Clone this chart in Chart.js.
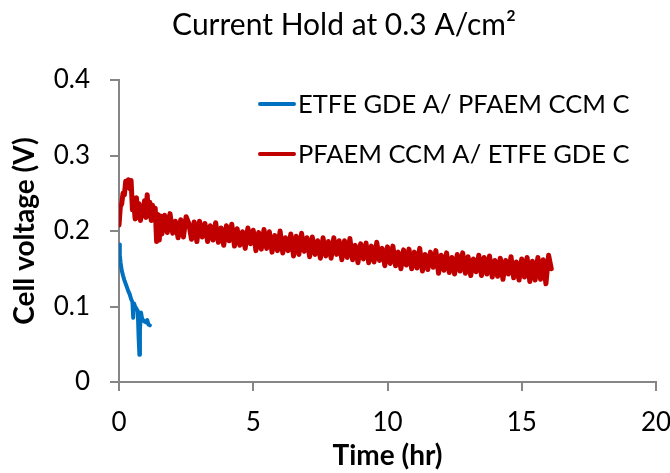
<!DOCTYPE html>
<html><head><meta charset="utf-8">
<script src="https://cdn.jsdelivr.net/npm/chart.js@4.4.1/dist/chart.umd.min.js"></script>
<style>html,body{margin:0;padding:0;background:#fff}#wrap{width:670px;height:473px}</style>
</head><body><div id="wrap"><canvas id="c" width="670" height="473"></canvas></div>
<script>
const chartTitle = "Current Hold at 0.3 A/cm²";
const xAxisTitle = "Time (hr)";
const yAxisTitle = "Cell voltage (V)";
const seriesNames = ["ETFE GDE A/ PFAEM CCM C", "PFAEM CCM A/ ETFE GDE C"];
const seriesColors = ["#0070C0", "#C00000"];
const xTickValues = [0, 5, 10, 15, 20];
const yTickValues = [0, 0.1, 0.2, 0.3, 0.4];

const blueTime = [0, 0.03, 0.06, 0.1, 0.15, 0.2, 0.25, 0.3, 0.35, 0.4, 0.45, 0.5, 0.53, 0.56, 0.6, 0.65, 0.7, 0.73, 0.76, 0.78, 0.82, 0.86, 0.9, 0.95, 1.0, 1.05, 1.1, 1.15];
const blueVolt = [0.182, 0.168, 0.158, 0.148, 0.141, 0.135, 0.130, 0.125, 0.120, 0.116, 0.110, 0.106, 0.085, 0.104, 0.100, 0.097, 0.094, 0.060, 0.036, 0.070, 0.092, 0.084, 0.082, 0.080, 0.079, 0.082, 0.076, 0.075];

const redTime = [0.00,0.05,0.10,0.15,0.20,0.25,0.30,0.35,0.40,0.45,0.50,0.55,0.60,0.65,0.70,0.75,0.80,0.85,0.90,0.95,1.00,1.05,1.10,1.15,1.20,1.25,1.30,1.35,1.40,1.45,1.50,1.55,1.60,
1.7,1.8,1.9,2.0,2.1,2.2,2.3,2.4,2.5,2.6,2.7,2.8,2.9,3.0,3.1,3.2,3.3,3.4,3.5,3.6,3.7,3.8,3.9,4.0,4.1,4.2,4.3,4.4,4.5,4.6,4.7,4.8,4.9,5.0,
5.1,5.2,5.3,5.4,5.5,5.6,5.7,5.8,5.9,6.0,6.1,6.2,6.3,6.4,6.5,6.6,6.7,6.8,6.9,7.0,7.1,7.2,7.3,7.4,7.5,7.6,7.7,7.8,7.9,8.0,
8.1,8.2,8.3,8.4,8.5,8.6,8.7,8.8,8.9,9.0,9.1,9.2,9.3,9.4,9.5,9.6,9.7,9.8,9.9,10.0,10.1,10.2,10.3,10.4,10.5,10.6,10.7,10.8,10.9,11.0,
11.1,11.2,11.3,11.4,11.5,11.6,11.7,11.8,11.9,12.0,12.1,12.2,12.3,12.4,12.5,12.6,12.7,12.8,12.9,13.0,13.1,13.2,13.3,13.4,13.5,13.6,13.7,13.8,13.9,14.0,
14.1,14.2,14.3,14.4,14.5,14.6,14.7,14.8,14.9,15.0,15.1,15.2,15.3,15.4,15.5,15.6,15.7,15.8,15.9,16.0,16.1];
const redVolt = [0.208,0.232,0.236,0.250,0.248,0.266,0.258,0.268,0.256,0.267,0.228,0.240,0.216,0.244,0.218,0.236,0.214,0.232,0.220,0.240,0.218,0.248,0.220,0.238,0.214,0.234,0.216,0.230,0.186,0.222,0.188,0.220,0.196,
0.221,0.198,0.223,0.197,0.213,0.191,0.215,0.192,0.219,0.210,0.189,0.212,0.186,0.213,0.192,0.210,0.186,0.207,0.188,0.211,0.185,0.204,0.181,0.207,0.187,0.209,0.180,0.203,0.181,0.199,0.177,0.204,0.183,0.201,
0.174,0.198,0.176,0.202,0.177,0.199,0.172,0.194,0.174,0.200,0.171,0.191,0.174,0.196,0.167,0.193,0.169,0.197,0.173,0.191,0.166,0.192,0.169,0.187,0.164,0.191,0.167,0.186,0.164,0.191,
0.169,0.187,0.162,0.187,0.165,0.190,0.162,0.181,0.158,0.183,0.163,0.184,0.158,0.180,0.159,0.185,0.161,0.177,0.154,0.179,0.157,0.180,0.154,0.172,0.150,0.175,0.155,0.176,0.150,0.172,
0.151,0.177,0.147,0.169,0.149,0.172,0.152,0.174,0.144,0.168,0.148,0.171,0.145,0.165,0.143,0.169,0.147,0.171,0.144,0.166,0.141,0.163,0.146,0.168,0.141,0.165,0.143,0.167,0.139,0.161,
0.140,0.164,0.136,0.161,0.143,0.166,0.138,0.159,0.135,0.163,0.139,0.165,0.133,0.160,0.135,0.165,0.136,0.162,0.130,0.168,0.150];

const toPoints = (xs, ys) => xs.map((x, i) => ({x: x, y: ys[i]}));
const FONT = "Lato";
const AXIS_GREY = "#868686";

const legendPlugin = {
  id: 'insideLegend',
  afterDraw(chart) {
    const ctx = chart.ctx;
    ctx.save();
    const rows = [104, 154];
    chart.data.datasets.forEach((ds, i) => {
      const y = rows[i];
      ctx.strokeStyle = ds.borderColor;
      ctx.lineWidth = 4;
      ctx.lineCap = 'round';
      ctx.beginPath(); ctx.moveTo(260, y); ctx.lineTo(294, y); ctx.stroke();
      ctx.fillStyle = '#000';
      ctx.font = '25.5px ' + FONT;
      ctx.textBaseline = 'middle';
      ctx.textAlign = 'left';
      ctx.fillText(ds.label, 298, y + 1);
    });
    ctx.restore();
  }
};

new Chart(document.getElementById('c'), {
  type: 'line',
  data: {
    datasets: [
      {label: seriesNames[0], data: toPoints(blueTime, blueVolt), borderColor: seriesColors[0], backgroundColor: seriesColors[0], borderWidth: 4, pointRadius: 0, tension: 0, borderJoinStyle: 'round', borderCapStyle: 'round'},
      {label: seriesNames[1], data: toPoints(redTime, redVolt), borderColor: seriesColors[1], backgroundColor: seriesColors[1], borderWidth: 5, pointRadius: 0, tension: 0, borderJoinStyle: 'round', borderCapStyle: 'round'}
    ]
  },
  options: {
    responsive: false,
    animation: false,
    layout: {padding: {left: 18, right: 0, top: 0, bottom: 0}},
    plugins: {
      legend: {display: false},
      tooltip: {enabled: false},
      title: {display: true, text: chartTitle, color: '#000', font: {family: FONT, size: 30, weight: 'normal'}, padding: {top: 7, bottom: 37}}
    },
    scales: {
      x: {
        type: 'linear', min: 0, max: 20,
        afterBuildTicks: s => { s.ticks = xTickValues.map(v => ({value: v})); },
        afterFit: s => { s.height = 91; s.paddingRight = 14; },
        ticks: {color: '#000', font: {family: FONT, size: 26}, padding: 16, callback: v => String(v)},
        grid: {drawOnChartArea: false, drawTicks: true, tickLength: 9, color: AXIS_GREY, lineWidth: 2},
        border: {color: AXIS_GREY, width: 2},
        title: {display: true, text: xAxisTitle, color: '#000', font: {family: FONT, size: 28, weight: 'bold'}, padding: {top: 0, bottom: 0}}
      },
      y: {
        type: 'linear', min: 0, max: 0.4,
        afterBuildTicks: s => { s.ticks = yTickValues.map(v => ({value: v})); },
        afterFit: s => { s.width = 101; },
        ticks: {color: '#000', font: {family: FONT, size: 26}, padding: 20, callback: v => (v === 0 ? '0' : v.toFixed(1))},
        grid: {drawOnChartArea: false, drawTicks: true, tickLength: 9, color: AXIS_GREY, lineWidth: 2},
        border: {color: AXIS_GREY, width: 2},
        title: {display: true, text: yAxisTitle, color: '#000', font: {family: FONT, size: 28, weight: 'bold'}, padding: {top: -10, bottom: 0}}
      }
    }
  },
  plugins: [legendPlugin]
});
</script>
</body></html>
